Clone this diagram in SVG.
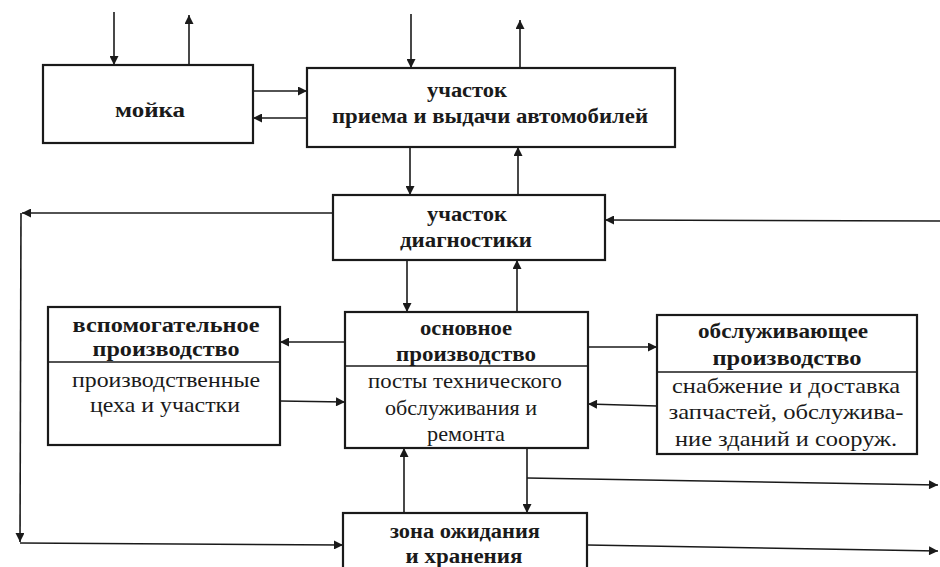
<svg xmlns="http://www.w3.org/2000/svg" width="940" height="567" viewBox="0 0 940 567">
<defs>
<marker id="ah" viewBox="0 0 10 10" refX="10" refY="5" markerWidth="11" markerHeight="9" markerUnits="userSpaceOnUse" orient="auto">
<path d="M0,0 L10,5 L0,10 Z" fill="#1a1a1a"/>
</marker>
<style>
.box{fill:#fff;stroke:#1a1a1a;stroke-width:2.2}
.div{stroke:#1a1a1a;stroke-width:1.3}
.ln{fill:none;stroke:#1a1a1a;stroke-width:1.6;marker-end:url(#ah)}
text{font-family:'Liberation Serif','DejaVu Serif',serif;fill:#1a1a1a;text-anchor:middle}
.t{font-weight:bold;font-size:20px}
.r{font-size:21px}
</style>
</defs>
<rect width="940" height="567" fill="#fff"/>
<g id="connectors">
<line class="ln" x1="114" y1="12" x2="114" y2="65"/>
<line class="ln" x1="189" y1="65" x2="189" y2="15"/>
<line class="ln" x1="411" y1="14" x2="411" y2="68"/>
<line class="ln" x1="520" y1="68" x2="520" y2="20"/>
<line class="ln" x1="245" y1="91" x2="307" y2="91"/>
<line class="ln" x1="313" y1="118" x2="253" y2="118"/>
<line class="ln" x1="410" y1="147" x2="410" y2="195"/>
<line class="ln" x1="518" y1="195" x2="518" y2="147"/>
<line class="ln" x1="407" y1="260" x2="407" y2="312"/>
<line class="ln" x1="517" y1="312" x2="517" y2="260"/>
<line class="ln" x1="333" y1="213" x2="22" y2="213"/>
<line class="ln" x1="21" y1="213" x2="20" y2="542"/>
<line class="ln" x1="20" y1="543" x2="343" y2="545"/>
<line class="ln" x1="940" y1="221" x2="605" y2="220"/>
<line class="ln" x1="345" y1="342" x2="280" y2="342"/>
<line class="ln" x1="280" y1="401" x2="345" y2="402"/>
<line class="ln" x1="588" y1="347" x2="657" y2="347"/>
<line class="ln" x1="657" y1="406" x2="588" y2="404"/>
<line class="ln" x1="404" y1="513" x2="404" y2="448"/>
<line class="ln" x1="527" y1="448" x2="527" y2="513"/>
<line class="ln" x1="527" y1="478" x2="938" y2="485"/>
<line class="ln" x1="587" y1="545" x2="938" y2="551"/>
</g>
<g id="moika">
<rect class="box" x="43" y="65" width="210" height="78"/>
<text class="t" x="150" y="117" textLength="70" lengthAdjust="spacingAndGlyphs">мойка</text>
</g>
<g id="priem">
<rect class="box" x="307" y="68" width="368" height="79"/>
<text class="t" x="467" y="97" textLength="80" lengthAdjust="spacingAndGlyphs">участок</text>
<text class="t" x="490" y="123" textLength="316" lengthAdjust="spacingAndGlyphs">приема и выдачи автомобилей</text>
</g>
<g id="diag">
<rect class="box" x="333" y="195" width="272" height="65"/>
<text class="t" x="467" y="221" textLength="80" lengthAdjust="spacingAndGlyphs">участок</text>
<text class="t" x="466" y="247" textLength="132" lengthAdjust="spacingAndGlyphs">диагностики</text>
</g>
<g id="vspom">
<rect class="box" x="48" y="307" width="232" height="138"/>
<line class="div" x1="48" y1="362" x2="280" y2="362"/>
<text class="t" x="166" y="332" textLength="187" lengthAdjust="spacingAndGlyphs">вспомогательное</text>
<text class="t" x="166" y="356" textLength="147" lengthAdjust="spacingAndGlyphs">производство</text>
<text class="r" x="166" y="387" textLength="188" lengthAdjust="spacingAndGlyphs">производственные</text>
<text class="r" x="165" y="412" textLength="150" lengthAdjust="spacingAndGlyphs">цеха и участки</text>
</g>
<g id="osn">
<rect class="box" x="345" y="312" width="243" height="136"/>
<line class="div" x1="345" y1="366" x2="588" y2="366"/>
<text class="t" x="466" y="335" textLength="92" lengthAdjust="spacingAndGlyphs">основное</text>
<text class="t" x="466" y="361" textLength="140" lengthAdjust="spacingAndGlyphs">производство</text>
<text class="r" x="465" y="388" textLength="194" lengthAdjust="spacingAndGlyphs">посты технического</text>
<text class="r" x="461" y="415" textLength="152" lengthAdjust="spacingAndGlyphs">обслуживания и</text>
<text class="r" x="466" y="441" textLength="78" lengthAdjust="spacingAndGlyphs">ремонта</text>
</g>
<g id="obsl">
<rect class="box" x="657" y="315" width="260" height="139"/>
<line class="div" x1="657" y1="372" x2="917" y2="372"/>
<text class="t" x="783" y="338" textLength="170" lengthAdjust="spacingAndGlyphs">обслуживающее</text>
<text class="t" x="787" y="365" textLength="149" lengthAdjust="spacingAndGlyphs">производство</text>
<text class="r" x="786" y="393" textLength="228" lengthAdjust="spacingAndGlyphs">снабжение и доставка</text>
<text class="r" x="786" y="419" textLength="235" lengthAdjust="spacingAndGlyphs">запчастей, обслужива-</text>
<text class="r" x="786" y="446" textLength="222" lengthAdjust="spacingAndGlyphs">ние зданий и сооруж.</text>
</g>
<g id="zona">
<rect class="box" x="343" y="513" width="244" height="60"/>
<text class="t" x="465" y="538" textLength="150" lengthAdjust="spacingAndGlyphs">зона ожидания</text>
<text class="t" x="464" y="563" textLength="117" lengthAdjust="spacingAndGlyphs">и хранения</text>
</g>
</svg>
